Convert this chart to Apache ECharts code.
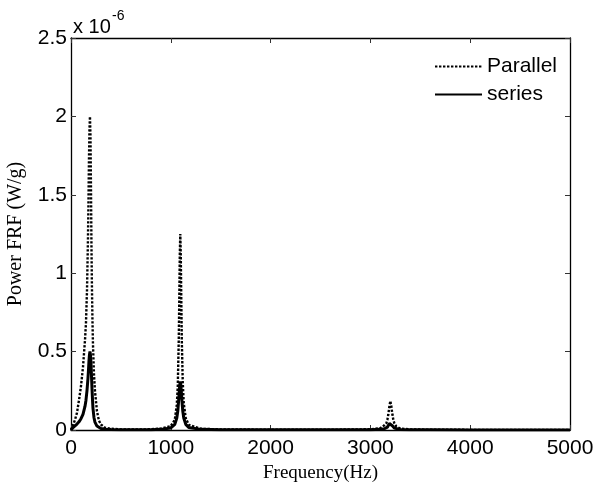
<!DOCTYPE html>
<html>
<head>
<meta charset="utf-8">
<script src="https://cdn.jsdelivr.net/npm/echarts@6/dist/echarts.min.js"></script>
<style>
html,body{margin:0;padding:0;background:#fff;}
#chart{width:597px;height:482px;}
</style>
</head>
<body>
<div id="chart"></div>
<script>
// Frequency grid (Hz)
var freq = [0, 10, 20, 40, 60, 80, 100, 120, 140, 150, 160, 170, 175, 180, 185, 190, 195, 200, 205, 210, 215, 220, 230, 240, 260, 280, 300, 340, 400, 500, 600, 700, 800, 900,
  1000, 1020, 1040, 1060, 1070, 1080, 1085, 1090, 1095, 1100, 1105, 1110, 1120, 1130, 1150, 1180, 1200, 1300, 1500, 2000, 2500, 2800,
  3000, 3100, 3140, 3160, 3170, 3180, 3190, 3200, 3210, 3220, 3230, 3240, 3260, 3300, 3400, 3600, 4000, 4500, 5000];

// Power FRF (x 1e-6 W/g), parallel connection
var parallelVals = [0, 0.015, 0.03, 0.065, 0.11, 0.19, 0.28, 0.40, 0.57, 0.68, 0.88, 1.22, 1.45, 1.72, 1.92, 2.00, 1.88, 1.55, 1.18, 0.90, 0.70, 0.55, 0.36, 0.25, 0.12, 0.06, 0.035, 0.015, 0.008, 0.004, 0.003, 0.003, 0.005, 0.009,
  0.025, 0.035, 0.065, 0.16, 0.28, 0.58, 0.83, 1.11, 1.25, 1.11, 0.83, 0.58, 0.30, 0.17, 0.075, 0.033, 0.022, 0.008, 0.004, 0.002, 0.002, 0.003,
  0.005, 0.012, 0.03, 0.043, 0.065, 0.10, 0.15, 0.185, 0.15, 0.10, 0.065, 0.043, 0.022, 0.009, 0.004, 0.002, 0.001, 0.001, 0.001];

// Power FRF (x 1e-6 W/g), series connection
var seriesVals = [0, 0.008, 0.016, 0.026, 0.038, 0.052, 0.072, 0.10, 0.15, 0.19, 0.25, 0.33, 0.38, 0.44, 0.48, 0.50, 0.48, 0.43, 0.35, 0.27, 0.20, 0.14, 0.08, 0.05, 0.025, 0.014, 0.009, 0.005, 0.003, 0.002, 0.001, 0.001, 0.002, 0.004,
  0.013, 0.021, 0.036, 0.076, 0.121, 0.20, 0.25, 0.29, 0.31, 0.29, 0.25, 0.20, 0.121, 0.076, 0.036, 0.016, 0.011, 0.004, 0.002, 0.001, 0.001, 0.001,
  0.002, 0.004, 0.008, 0.012, 0.018, 0.027, 0.041, 0.05, 0.041, 0.027, 0.018, 0.012, 0.006, 0.003, 0.001, 0.001, 0.0005, 0.0005, 0.0005];

var seriesNames = ['Parallel', 'series'];
var xTicks = [0, 1000, 2000, 3000, 4000, 5000];
var yTicks = [0, 0.5, 1, 1.5, 2, 2.5];

function pairs(xs, ys) {
  var out = [];
  for (var i = 0; i < xs.length; i++) out.push([xs[i], ys[i]]);
  return out;
}

var sansFont = '"Liberation Sans", Arial, sans-serif';
var serifFont = '"Liberation Serif", "Times New Roman", serif';

var chart = echarts.init(document.getElementById('chart'), null, {renderer: 'canvas'});

var tickStyle = {show: true, inside: true, length: 5, lineStyle: {color: '#333', width: 1}};
var frameLine = {show: true, onZero: false, lineStyle: {color: '#000', width: 1.3}};

chart.setOption({
  animation: false,
  backgroundColor: '#fff',
  color: ['#000', '#000'],
  grid: {left: 71, right: 27, top: 38, bottom: 52, containLabel: false, outerBoundsMode: 'none'},
  legend: {
    show: true,
    orient: 'vertical',
    left: 429,
    top: 51,
    itemWidth: 47,
    itemHeight: 14,
    itemGap: 7,
    itemStyle: {opacity: 0},
    textStyle: {fontFamily: sansFont, fontSize: 21, color: '#000'},
    data: seriesNames
  },
  xAxis: [{
    type: 'value', min: xTicks[0], max: xTicks[xTicks.length - 1], interval: 1000, position: 'bottom',
    name: 'Frequency(Hz)', nameLocation: 'middle', nameGap: 31,
    nameTextStyle: {fontFamily: serifFont, fontSize: 19, color: '#000'},
    axisLine: frameLine, axisTick: tickStyle,
    axisLabel: {margin: 8, fontFamily: sansFont, fontSize: 21, color: '#000', formatter: function (v) { return String(v); }},
    splitLine: {show: false}
  }, {
    type: 'value', min: xTicks[0], max: xTicks[xTicks.length - 1], interval: 1000, position: 'top',
    axisLine: frameLine, axisTick: tickStyle, axisLabel: {show: false}, splitLine: {show: false}
  }],
  yAxis: [{
    type: 'value', min: yTicks[0], max: yTicks[yTicks.length - 1], interval: 0.5, position: 'left',
    name: 'Power FRF (W/g)', nameLocation: 'middle', nameGap: 45, nameRotate: 90,
    nameTextStyle: {fontFamily: serifFont, fontSize: 20, color: '#000'},
    axisLine: frameLine, axisTick: tickStyle,
    axisLabel: {margin: 4, fontFamily: sansFont, fontSize: 21, color: '#000'},
    splitLine: {show: false}
  }, {
    type: 'value', min: yTicks[0], max: yTicks[yTicks.length - 1], interval: 0.5, position: 'right',
    axisLine: frameLine, axisTick: tickStyle, axisLabel: {show: false}, splitLine: {show: false}
  }],
  graphic: [
    {type: 'text', left: 73, top: 17, style: {text: 'x 10', font: '20px ' + sansFont, fill: '#000'}},
    {type: 'text', left: 112, top: 9, style: {text: '-6', font: '14px ' + sansFont, fill: '#000'}}
  ],
  series: [{
    name: seriesNames[0], type: 'line', data: pairs(freq, parallelVals),
    showSymbol: false, symbol: 'none', smooth: false, z: 2,
    itemStyle: {color: '#000'},
    lineStyle: {color: '#000', width: 2.4, type: [2.4, 1.6]}
  }, {
    name: seriesNames[1], type: 'line', data: pairs(freq, seriesVals),
    showSymbol: false, symbol: 'none', smooth: false, z: 3,
    itemStyle: {color: '#000'},
    lineStyle: {color: '#000', width: 3, type: 'solid'}
  }]
});
</script>
</body>
</html>
